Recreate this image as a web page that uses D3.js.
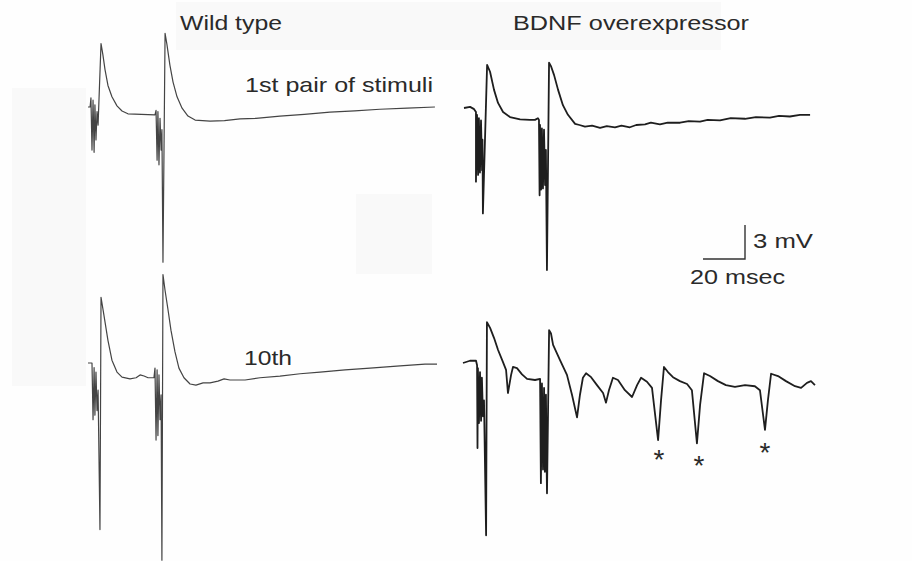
<html>
    <head>
        <title>Paired stimuli - WT vs BDNF</title>
        <style>
            body { margin: 0; background-color: #fefefe; }
            svg text { font-family: "Liberation Sans", Arial, sans-serif; fill: #2a2a2a; }
        </style>
    </head>
    <body>
        <svg id="fig" width="912" height="561"></svg>
        <script src="https://d3js.org/d3.v7.min.js"></script>
        <script>
            // traces: [time (ms), voltage (mV)] relative to each panel's start / resting level
            const wt1st = [
                [0,0],[1,0],[1.4,0.8],[1.9,-3.8],[2.4,0.6],[2.9,-4.0],[3.3,0.2],[3.8,-2.9],[4.3,-0.4],[4.8,-1.6],
                [6.2,5.6],[7.1,4.6],[8.1,3.3],[9.5,1.9],[11.4,0.9],[13.8,0.1],[16.2,-0.35],[19.0,-0.6],[31.9,-0.7],
                [32.4,-0.3],[32.9,-4.7],[33.3,-0.4],[33.8,-5.1],[34.3,-1.0],[34.8,-3.8],[35.2,-2.0],
                [35.7,-13.7],[36.7,6.5],[37.6,5.5],[39.0,3.7],[40.5,2.2],[42.4,0.9],[44.8,-0.1],[47.6,-0.8],
                [51.0,-1.15],[58.1,-1.25],[65,-1.2],[72.4,-1.05],[80,-1.0],[91.4,-0.8],[103,-0.65],[115.2,-0.45],
                [127,-0.35],[139.0,-0.2],[152,-0.1],[165.2,0]
            ];
            const bdnf1st = [
                [0,0],[2.9,0.1],[4.8,-0.1],[5.7,-0.35],[5.7,-6.5],[6.2,-0.6],[6.7,-5.9],[7.1,-0.9],[7.6,-5.7],
                [8.1,-1.1],[8.6,-5.5],[8.8,-2.8],[9.0,-9.3],[11.0,3.8],[12.4,3.2],[14.3,1.6],[16.2,0.45],
                [18.6,-0.35],[21.9,-0.8],[26.7,-1.0],[31.4,-1.05],[33.8,-1.05],[35.2,-0.9],[35.7,-1.05],
                [36.0,-7.7],[36.2,-1.5],[36.7,-7.2],[37.1,-1.8],[37.6,-7.1],[38.1,-1.9],[38.6,-6.8],[39.0,-3.7],
                [39.5,-14.3],[40.5,4.0],[41.4,3.7],[42.9,2.9],[44.8,1.6],[47.1,0.25],[49.5,-0.6],[52.9,-1.4],
                [55,-1.5],[57.6,-1.65],[61,-1.55],[64.8,-1.75],[68,-1.6],[71.9,-1.7],[75,-1.55],[79.0,-1.7],
                [82,-1.5],[86.2,-1.45],[89,-1.3],[93.3,-1.45],[97,-1.3],[102.9,-1.3],[107,-1.15],[112.4,-1.2],
                [116,-1.05],[121.9,-1.1],[127,-0.9],[133.8,-0.95],[139,-0.8],[145.7,-0.85],[150,-0.7],
                [155.2,-0.75],[160,-0.6],[164.8,-0.6]
            ];
            const wt10th = [
                [0,0],[1.9,0],[2.4,-5.0],[2.9,-0.4],[3.3,-4.6],[3.8,-0.8],[4.3,-4.2],[4.8,-2.4],
                [5.7,-14.7],[6.2,5.8],[7.6,4.2],[9.5,2.0],[11.4,0.25],[13.8,-0.8],[16.2,-1.25],[20.0,-1.4],
                [22.9,-1.3],[24.8,-1.05],[26.7,-1.15],[28.6,-1.3],[31.4,-1.3],
                [31.9,-0.45],[32.4,-6.8],[32.9,-0.6],[33.3,-6.4],[33.8,-1.05],[34.3,-5.0],[34.8,-2.8],
                [35.2,-17.4],[35.7,7.8],[36.7,6.4],[38.1,4.7],[39.5,2.9],[41.4,1.0],[43.3,-0.45],[45.7,-1.3],
                [48.6,-1.85],[51.4,-1.95],[54.8,-1.75],[58.1,-1.75],[61.9,-1.6],[64.8,-1.4],[67.6,-1.5],
                [74.8,-1.5],[81.9,-1.3],[91.4,-1.15],[101.0,-0.95],[110.5,-0.8],[122.4,-0.6],[134.3,-0.45],
                [148.6,-0.25],[160.5,-0.1],[166.2,-0.1]
            ];
            const bdnf10th = [
                [0,0],[3.3,0.2],[6.2,0.2],[6.7,-0.2],[6.9,-7.5],[7.1,-0.45],[7.6,-5.3],[8.1,-0.8],[8.6,-5.1],
                [9.0,-1.3],[9.5,-4.7],[10.0,-3.3],[11.0,-15.2],[11.4,3.6],[12.9,3.1],[14.8,2.2],[16.7,1.15],
                [19.0,0.1],[20.5,-0.6],[21.4,-2.65],[22.9,-1.05],[23.8,-0.35],[25.7,-0.45],[28.1,-1.0],
                [30.5,-1.4],[34.3,-1.5],[36.7,-1.4],
                [37.1,-10.6],[37.6,-1.8],[38.1,-9.4],[38.6,-2.2],[39.0,-9.6],[39.5,-2.8],[39.8,-8.6],
                [40.0,-11.5],[41.0,2.9],[41.9,2.6],[42.9,1.6],[46.2,0.25],[49.5,-1.05],[51.9,-2.8],
                [54.3,-4.8],[55.7,-2.8],[57.1,-1.3],[58.6,-0.9],[61.0,-1.25],[63.8,-1.95],[66.7,-2.65],
                [68.1,-3.5],[69.5,-2.4],[71.4,-1.3],[73.8,-1.5],[77.1,-2.4],[80.5,-3.0],
                [82.9,-1.95],[84.8,-1.3],[87.6,-1.65],[90.0,-2.2],
                [92.9,-6.8],[94.3,-3.3],[95.7,-0.35],[97.6,-0.8],[100.0,-1.25],[103.3,-1.6],[106.7,-1.85],[109.0,-2.4],
                [111.4,-7.1],[112.9,-3.7],[114.8,-0.9],[117.6,-1.15],[121.4,-1.6],[125.2,-1.95],[129.5,-2.1],
                [134.3,-1.95],[139.0,-2.05],[141.4,-2.4],
                [143.8,-5.9],[145.2,-3.3],[146.7,-0.95],[150.0,-1.15],[153.8,-1.6],[158.1,-2.05],[161.0,-2.2],
                [163.8,-1.75],[165.7,-1.6],[167.6,-1.95]
            ];
            // spontaneous events marked with asterisks (bdnf 10th)
            const eventTimes = [93.3, 112.4, 143.8];
            const eventLevels = [-7.9, -8.5, -7.3];
            const scaleBarMs = 20;
            const scaleBarMv = 3;

            const svg = d3.select("#fig");

            // faint scan blotches
            svg.append("g").selectAll("rect")
                .data([[12,88,74,298],[176,2,545,48],[356,194,76,80]])
                .join("rect")
                .attr("x", d => d[0]).attr("y", d => d[1]).attr("width", d => d[2]).attr("height", d => d[3])
                .attr("fill", "#f9f9f9");

            const X = d3.scaleLinear().domain([0, 20]).range([0, 42]);   // 2.1 px per ms
            const Y = d3.scaleLinear().domain([0, 3]).range([0, -34]);   // 11.3 px per mV

            const panels = [
                {data: wt1st, x0: 88, y0: 107, w: 1.2, c: "#444"},
                {data: bdnf1st, x0: 464, y0: 108, w: 1.8, c: "#1e1e1e"},
                {data: wt10th, x0: 88, y0: 363, w: 1.2, c: "#444"},
                {data: bdnf10th, x0: 463, y0: 363, w: 1.8, c: "#1e1e1e"}
            ];

            panels.forEach(p => {
                const line = d3.line().x(d => p.x0 + X(d[0])).y(d => p.y0 + Y(d[1]));
                svg.append("path").datum(p.data)
                    .attr("d", line)
                    .attr("fill", "none")
                    .attr("stroke", p.c)
                    .attr("stroke-width", p.w)
                    .attr("stroke-linejoin", "round");
            });

            // asterisks
            const bp = panels[3];
            svg.append("g").selectAll("text")
                .data(eventTimes)
                .join("text")
                .attr("x", (d) => bp.x0 + X(d))
                .attr("y", (d, i) => bp.y0 + Y(eventLevels[i]) + 16)
                .attr("text-anchor", "middle")
                .style("font-size", "28px")
                .text("*");

            // scale bar
            const sbx = 745, sby = 259;
            svg.append("path")
                .attr("d", "M" + (sbx - X(scaleBarMs)) + "," + sby + "H" + sbx + "V" + (sby + Y(scaleBarMv)))
                .attr("fill", "none").attr("stroke", "#333").attr("stroke-width", 1.4);

            const labels = [
                {t: "Wild type", x: 180, y: 30, len: 102, fs: 20},
                {t: "BDNF overexpressor", x: 513, y: 30, len: 236, fs: 20},
                {t: "1st pair of stimuli", x: 245, y: 92, len: 188, fs: 21},
                {t: "10th", x: 244, y: 365, len: 48, fs: 21},
                {t: scaleBarMv + " mV", x: 753, y: 248, len: 60, fs: 20},
                {t: scaleBarMs + " msec", x: 690, y: 284, len: 95, fs: 20}
            ];
            svg.append("g").selectAll("text")
                .data(labels)
                .join("text")
                .attr("x", d => d.x).attr("y", d => d.y)
                .attr("textLength", d => d.len)
                .attr("lengthAdjust", "spacingAndGlyphs")
                .style("font-size", d => d.fs + "px")
                .text(d => d.t);
        </script>
    </body>
</html>
